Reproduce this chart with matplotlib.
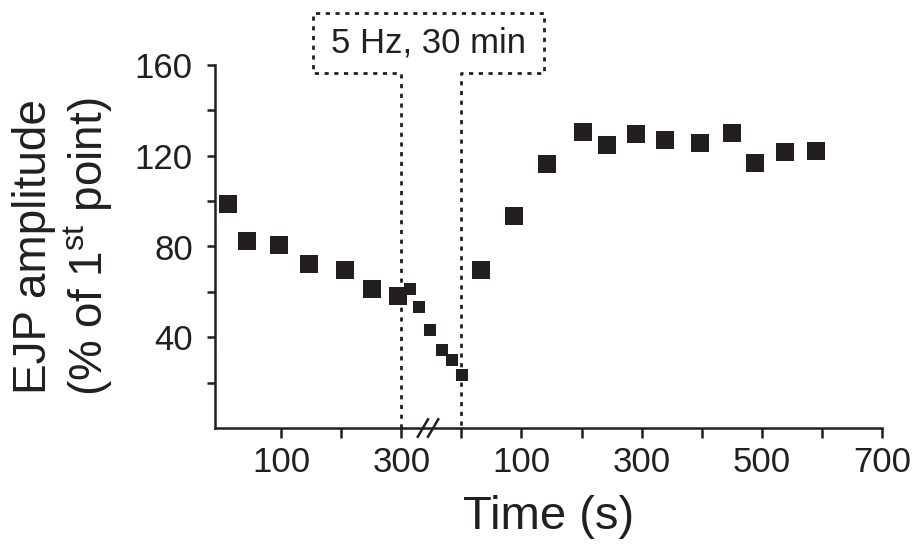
import matplotlib
matplotlib.use('Agg')

import matplotlib.pyplot as plt

plt.rcParams['font.family'] = ['Liberation Sans', 'DejaVu Sans']
plt.rcParams['mathtext.fontset'] = 'custom'
plt.rcParams['mathtext.rm'] = 'Liberation Sans'

# before stimulation (s)
pre_t = [12, 43, 97, 146, 207, 251, 295]
pre_amp = [98.8, 82.6, 80.7, 72.1, 69.5, 61.4, 58.0]

# 30 min of 5 Hz stimulation, drawn compressed inside the axis break
stim_pos = [314, 329, 347, 367, 384, 401]
stim_amp = [61.4, 53.3, 43.1, 34.3, 29.9, 23.3]

# after stimulation (s)
post_t = [33, 87, 142, 202, 243, 290, 339, 397, 450, 488, 539, 590]
post_amp = [69.5, 93.6, 116.3, 130.5, 124.7, 129.5, 127.0, 125.7, 130.0,
            116.6, 121.5, 122.0]

left_ticks = [100, 200, 300]
left_labels = ['100', '', '300']
right_ticks = [0, 100, 200, 300, 400, 500, 600, 700]
right_labels = ['', '100', '', '300', '', '500', '', '700']
y_ticks = [20, 40, 60, 80, 100, 120, 140, 160]
y_labels = ['', '40', '', '80', '', '120', '', '160']

stim_start = 300    # end of left segment
offset = 400        # where 0 s of the right segment sits
box_text = '5 Hz, 30 min'

COL = '#231f20'

fig = plt.figure(figsize=(9.22, 5.44), dpi=100)
ax = fig.add_axes([215 / 922, 116 / 544, 667 / 922, 363 / 544])

ax.plot(pre_t, pre_amp, 's', ms=13.5, mew=0, color=COL, zorder=4)
ax.plot(stim_pos, stim_amp, 's', ms=9.2, mew=0, color=COL, zorder=4)
ax.plot([t + offset for t in post_t], post_amp, 's', ms=13.5, mew=0,
        color=COL, zorder=4)

ax.set_xlim(-10, offset + 700)
ax.set_ylim(0, 160)

ax.set_xticks(left_ticks + [t + offset for t in right_ticks])
ax.set_xticklabels(left_labels + right_labels)
ax.set_yticks(y_ticks)
ax.set_yticklabels(y_labels)

for s in ['top', 'right']:
    ax.spines[s].set_visible(False)
for s in ['left', 'bottom']:
    ax.spines[s].set_linewidth(1.8)
    ax.spines[s].set_color(COL)
ax.tick_params(axis='x', length=7, width=1.8, pad=6, labelsize=25,
               colors=COL)
ax.tick_params(axis='y', length=6, width=1.8, pad=10, labelsize=25,
               colors=COL)

ax.set_xlabel('Time (s)', fontsize=34, color=COL)
ax.xaxis.set_label_coords(0.5, -0.185)
ax.set_ylabel('EJP amplitude\n(% of 1$^{\\mathrm{st}}$ point)', fontsize=33,
              color=COL, linespacing=1.15)
ax.yaxis.set_label_coords(-0.15, 0.5)

# dotted box with the two lines marking the stimulation period
tr = ax.get_xaxis_transform()
b_lo, b_hi = 0.977, 1.143
bx0, bx1 = 153, 537
ax.plot([stim_start, stim_start, bx0, bx0, bx1, bx1, offset, offset],
        [0, b_lo, b_lo, b_hi, b_hi, b_lo, b_lo, 0],
        transform=tr, clip_on=False, color=COL, lw=2.0,
        linestyle=(0, (1.5, 2.0)), zorder=2)
ax.text((bx0 + bx1) / 2, (b_lo + b_hi) / 2, box_text, transform=tr,
        ha='center', va='center', fontsize=25, color=COL)

# axis break marks
for xc in [336, 353]:
    ax.plot([xc - 8.5, xc + 8.5], [-0.024, 0.024], transform=tr,
            clip_on=False, color=COL, lw=1.8, zorder=5)

fig.savefig('out.png', dpi=100)
